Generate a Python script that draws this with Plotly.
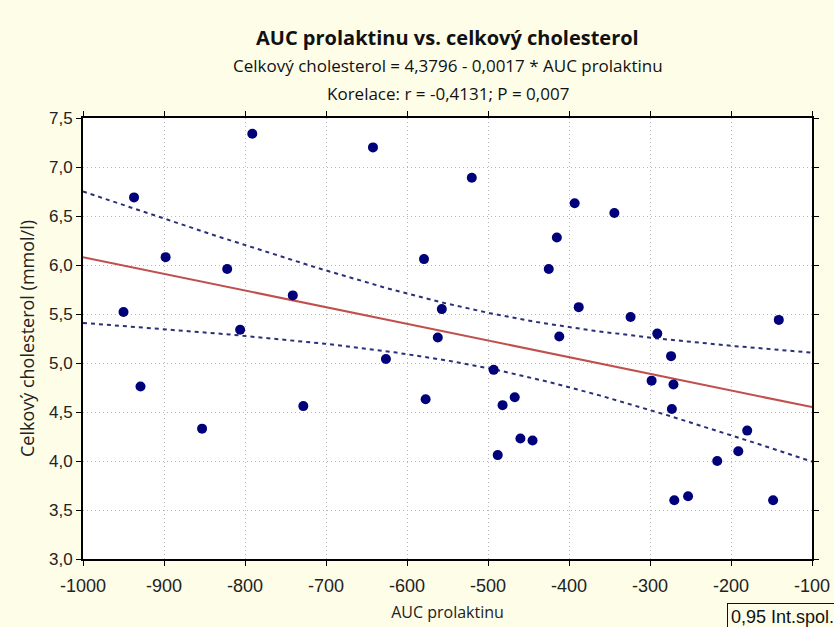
import numpy as np
import plotly.graph_objects as go

# AUC prolaktinu (x) and total cholesterol in mmol/l (y), one entry per subject
auc_prolaktinu = [-950, -937, -929, -898, -853, -822, -806, -791, -741, -728,
                  -642, -626, -579, -577, -562, -557, -520, -493, -488, -482,
                  -467, -460, -445, -425, -415, -412, -393, -388, -344, -324,
                  -298, -291, -274, -273, -271, -270, -253, -217, -191, -180,
                  -148, -141]
cholesterol = [5.52, 6.69, 4.76, 6.08, 4.33, 5.96, 5.34, 7.34, 5.69, 4.56,
               7.20, 5.04, 6.06, 4.63, 5.26, 5.55, 6.89, 4.93, 4.06, 4.57,
               4.65, 4.23, 4.21, 5.96, 6.28, 5.27, 6.63, 5.57, 6.53, 5.47,
               4.82, 5.30, 5.07, 4.53, 4.78, 3.60, 3.64, 4.00, 4.10, 4.31,
               3.60, 5.44]

# Fitted regression: Celkový cholesterol = 4,3796 - 0,0017 * AUC prolaktinu
intercept = 4.3796
slope = -0.0017

x_ticks = [-1000, -900, -800, -700, -600, -500, -400, -300, -200, -100]
x_tick_labels = ["-1000", "-900", "-800", "-700", "-600", "-500", "-400", "-300", "-200", "-100"]
y_ticks = [3.0, 3.5, 4.0, 4.5, 5.0, 5.5, 6.0, 6.5, 7.0, 7.5]
y_tick_labels = ["3,0", "3,5", "4,0", "4,5", "5,0", "5,5", "6,0", "6,5", "7,0", "7,5"]

# 95 % confidence band of the mean response around the fitted line
x = np.array(auc_prolaktinu, dtype=float)
y = np.array(cholesterol, dtype=float)
n = len(x)
resid = y - (intercept + slope * x)
s = np.sqrt(np.sum(resid ** 2) / (n - 2))
sxx = np.sum((x - x.mean()) ** 2)
t_crit = 2.021  # t(0.975, df=40)
xs = np.linspace(-1000, -100, 200)
fit = intercept + slope * xs
half = t_crit * s * np.sqrt(1.0 / n + (xs - x.mean()) ** 2 / sxx)

fig = go.Figure()
band_line = dict(color="#2a2f78", width=2, dash="4px,4px")
fig.add_trace(go.Scatter(x=xs, y=fit + half, mode="lines", line=band_line, hoverinfo="skip"))
fig.add_trace(go.Scatter(x=xs, y=fit - half, mode="lines", line=band_line, hoverinfo="skip"))
fig.add_trace(go.Scatter(x=xs, y=fit, mode="lines", line=dict(color="#c0504d", width=2)))
fig.add_trace(go.Scatter(x=auc_prolaktinu, y=cholesterol, mode="markers",
                         marker=dict(color="#00007a", size=10)))

axis_common = dict(
    automargin=False,
    showline=True, linecolor="black", linewidth=2, mirror="ticks",
    ticks="outside", ticklen=5, tickcolor="black", tickwidth=1,
    showgrid=True, gridcolor="#b8b8b8", griddash="1px,3px", gridwidth=1,
    zeroline=False,
)

fig.update_xaxes(range=[-1000, -100], tickvals=x_ticks, ticktext=x_tick_labels,
                 ticklabelstandoff=4,
                 tickfont=dict(family="Liberation Sans, Arial", size=18, color="#222222"),
                 title=dict(text="AUC prolaktinu", standoff=12,
                            font=dict(family="Open Sans", size=16, color="#222222")),
                 **axis_common)
fig.update_yaxes(range=[3.0, 7.5], tickvals=y_ticks, ticktext=y_tick_labels,
                 tickfont=dict(family="Liberation Sans, Arial", size=17, color="#222222"),
                 title=dict(text="Celkový cholesterol (mmol/l)", standoff=10,
                            font=dict(family="Open Sans", size=18, color="#222222")),
                 **axis_common)

W, H = 834, 627
ML, MR, MT, MB = 83, 22, 118, 68
plot_w = W - ML - MR
plot_h = H - MT - MB


def paper_x(px):
    return (px - ML) / plot_w


def paper_y(py):
    return (H - MB - py) / plot_h


header = [
    ("<b>AUC prolaktinu vs. celkový cholesterol</b>", 20, 37),
    ("Celkový cholesterol = 4,3796 - 0,0017 * AUC prolaktinu", 17, 66),
    ("Korelace: r = -0,4131; P = 0,007", 17, 93),
]
for text, size, py in header:
    fig.add_annotation(text=text, x=0.5, y=paper_y(py), xref="paper", yref="paper",
                       yanchor="middle", showarrow=False,
                       font=dict(family="Open Sans", size=size, color="#111111"))

fig.add_annotation(text="0,95 Int.spol.", xref="paper", yref="paper",
                   x=paper_x(838), y=paper_y(631),
                   xanchor="right", yanchor="bottom", showarrow=False,
                   bordercolor="#111111", borderwidth=1, borderpad=3,
                   bgcolor="#fdfde8", align="left",
                   font=dict(family="Liberation Sans, Arial", size=18, color="#111111"))

fig.update_layout(
    width=W, height=H,
    margin=dict(l=ML, r=MR, t=MT, b=MB, autoexpand=False),
    paper_bgcolor="#fdfde8", plot_bgcolor="white",
    showlegend=False,
)

fig.write_html("out.html")
